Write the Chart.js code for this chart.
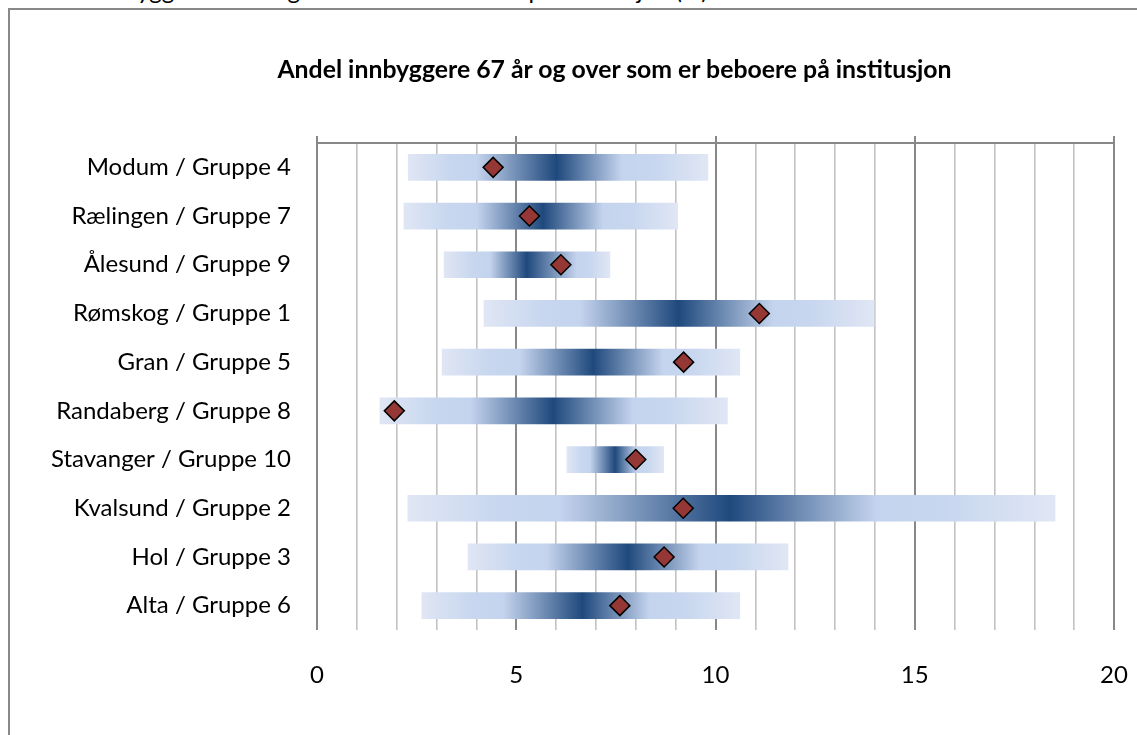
<!DOCTYPE html>
<html>
<head>
<meta charset="utf-8">
<script src="https://cdn.jsdelivr.net/npm/chart.js@4/dist/chart.umd.min.js"></script>
<style>
  body { margin: 0; background: #fff; overflow: hidden; }
  #wrap { position: relative; width: 1137px; height: 735px; overflow: hidden; }
  #frame { position: absolute; left: 8px; top: 8px; width: 1200px; height: 800px;
           border-left: 2px solid #888; border-top: 2px solid #888; }
  #cut { position: absolute; left: 24px; top: -25px; font: 24px Lato, sans-serif;
         line-height: 30px; color: #000; white-space: nowrap; }
  #title { position: absolute; left: 0; width: 1229px; top: 54px; text-align: center;
           font: bold 24.8px Lato, sans-serif; color: #000; white-space: nowrap; }
  canvas { position: absolute; left: 0; top: 0; }
</style>
</head>
<body>
<div id="wrap">
  <div id="cut">Andel innbyggere 67 år og over som er beboere på institusjon (%)</div>
  <div id="frame"></div>
  <canvas id="chart" width="1137" height="735"></canvas>
  <div id="title">Andel innbyggere 67 år og over som er beboere på institusjon</div>
</div>
<script>
// categories, top to bottom
const categories = ['Modum / Gruppe 4', 'Rælingen / Gruppe 7', 'Ålesund / Gruppe 9', 'Rømskog / Gruppe 1',
  'Gran / Gruppe 5', 'Randaberg / Gruppe 8', 'Stavanger / Gruppe 10', 'Kvalsund / Gruppe 2',
  'Hol / Gruppe 3', 'Alta / Gruppe 6'];
// group spread (min, lower quartile, median, upper quartile, max)
const lowValues = [2.29, 2.18, 3.19, 4.19, 3.14, 1.58, 6.27, 2.28, 3.79, 2.63];
const lowerQ = [4.0, 4.0, 4.34, 6.6, 5.09, 3.84, 6.85, 6.1, 5.76, 4.67];
const medianValues = [6.01, 5.67, 5.26, 9.07, 6.93, 5.93, 7.48, 10.36, 7.8, 6.66];
const upperQ = [7.65, 7.18, 6.52, 11.45, 8.68, 7.93, 8.02, 14.05, 9.61, 8.35];
const highValues = [9.81, 9.05, 7.35, 13.98, 10.61, 10.3, 8.7, 18.52, 11.82, 10.61];
// the municipality itself
const municipality = [4.42, 5.33, 6.12, 11.1, 9.2, 1.94, 8.0, 9.19, 8.71, 7.6];
const xTicks = [0, 5, 10, 15, 20];

const FONT = 'Lato';

// bar fill: light at both ends, dark blue at the group median
function barFill(ctx) {
    const chart = ctx.chart;
    if (!chart.chartArea) return '#c6d5ef';
    const i = ctx.dataIndex;
    const xs = chart.scales.x;
    const x0 = xs.getPixelForValue(lowValues[i]);
    const x1 = xs.getPixelForValue(highValues[i]);
    const f = v => Math.min(1, Math.max(0, (xs.getPixelForValue(v) - x0) / (x1 - x0)));
    const g = chart.ctx.createLinearGradient(x0, 0, x1, 0);
    g.addColorStop(0, '#e0e6f4');
    g.addColorStop(f(lowValues[i] + (lowerQ[i] - lowValues[i]) * 0.6), '#c8d7ef');
    g.addColorStop(f(lowerQ[i]), '#c5d4ee');
    g.addColorStop(f(medianValues[i]), '#1f497d');
    g.addColorStop(f(upperQ[i]), '#c5d4ee');
    g.addColorStop(f(upperQ[i] + (highValues[i] - upperQ[i]) * 0.4), '#c8d7ef');
    g.addColorStop(1, '#e0e6f4');
    return g;
}

new Chart(document.getElementById('chart'), {
    type: 'bar',
    data: {
        labels: categories,
        datasets: [{
            type: 'line',
            indexAxis: 'y',
            data: municipality,
            xAxisID: 'x',
            showLine: false,
            pointStyle: 'rectRot',
            pointRadius: 10,
            pointBackgroundColor: '#953735',
            pointBorderColor: '#000',
            pointBorderWidth: 1.5
        }, {
            indexAxis: 'y',
            data: lowValues.map((v, i) => [v, highValues[i]]),
            xAxisID: 'x',
            backgroundColor: barFill,
            borderWidth: 0,
            barThickness: 26
        }]
    },
    options: {
        indexAxis: 'y',
        responsive: false,
        animation: false,
        layout: { padding: { left: 0, right: 23, top: 136, bottom: 0 } },
        plugins: {
            legend: { display: false },
            tooltip: { enabled: false }
        },
        scales: {
            x: {
                position: 'bottom',
                min: 0, max: 20,
                afterBuildTicks: s => { s.ticks = xTicks.map(v => ({ value: v })); },
                grid: { display: false, drawTicks: false },
                border: { display: false },
                ticks: { color: '#000', padding: 31, font: { family: FONT, size: 24 } },
                afterFit: s => { s.height = 105; s.paddingLeft = 0; s.paddingRight = 0; }
            },
            x2: {
                position: 'top',
                min: 0, max: 20,
                ticks: { display: false, stepSize: 1 },
                grid: {
                    color: c => (c.tick && c.tick.value % 5 === 0) ? '#888' : '#c2c2c2',
                    lineWidth: c => (c.tick && c.tick.value % 5 === 0) ? 2 : 1.6,
                    tickColor: c => (c.tick && c.tick.value % 5 === 0) ? '#888' : 'rgba(0,0,0,0)',
                    tickLength: 7
                },
                border: { display: true, color: '#888', width: 2 },
                afterFit: s => { s.height = 7; s.paddingLeft = 0; s.paddingRight = 0; }
            },
            y: {
                grid: { display: false, drawTicks: false },
                border: { display: false },
                ticks: { color: '#000', padding: 26, font: { family: FONT, size: 24 } },
                afterFit: s => { s.width = 317; }
            }
        }
    }
});
</script>
</body>
</html>
